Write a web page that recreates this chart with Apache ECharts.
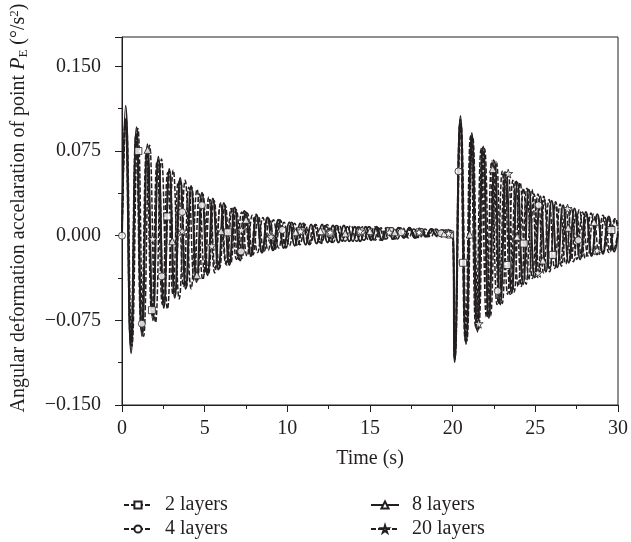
<!DOCTYPE html>
<html>
<head>
<meta charset="utf-8">
<script src="https://cdn.jsdelivr.net/npm/echarts@6/dist/echarts.min.js"></script>
<style>
  html, body { margin: 0; padding: 0; background: #fff; }
  #chart { width: 631px; height: 542px; }
</style>
</head>
<body>
<div id="chart"></div>
<script>
// * 2 / 4 / 8 / 20 layers — angular deformation acceleration, [time, value] at the turning points

const s2 = [[0,0],[0.20,0.100],[0.52,-0.094],[0.84,0.089],[1.16,-0.083],[1.48,0.076],[1.80,-0.070],[2.12,0.066],[2.44,-0.061],[2.76,0.056],[3.08,-0.052],[3.40,0.048],[3.72,-0.045],[4.04,0.043],[4.36,-0.040],[4.68,0.037],[5.00,-0.034],[5.32,0.032],[5.64,-0.029],[5.96,0.028],[6.28,-0.025],[6.60,0.024],[6.92,-0.021],[7.24,0.021],[7.56,-0.018],[7.88,0.018],[8.20,-0.015],[8.52,0.016],[8.84,-0.013],[9.16,0.014],[9.48,-0.011],[9.80,0.012],[10.12,-0.009],[10.44,0.011],[10.76,-0.008],[11.08,0.010],[11.40,-0.007],[11.72,0.010],[12.04,-0.006],[12.36,0.009],[12.68,-0.006],[13.00,0.009],[13.32,-0.005],[13.64,0.008],[13.96,-0.005],[14.28,0.008],[14.60,-0.004],[14.92,0.008],[15.24,-0.004],[15.56,0.007],[15.88,-0.003],[16.20,0.007],[16.52,-0.003],[16.84,0.007],[17.16,-0.002],[17.48,0.006],[17.80,-0.002],[18.12,0.006],[18.44,-0.001],[18.76,0.006],[19.08,-0.001],[19.40,0.005],[19.72,0.000],[20.00,0.002],
  [20.12,-0.108],[20.44,0.100],[20.76,-0.093],[21.08,0.088],[21.40,-0.082],[21.72,0.077],[22.04,-0.072],[22.36,0.066],[22.68,-0.061],[23.00,0.057],[23.32,-0.052],[23.64,0.049],[23.96,-0.045],[24.28,0.042],[24.60,-0.039],[24.92,0.037],[25.24,-0.034],[25.56,0.032],[25.88,-0.029],[26.20,0.028],[26.52,-0.025],[26.84,0.024],[27.16,-0.022],[27.48,0.021],[27.80,-0.019],[28.12,0.019],[28.44,-0.017],[28.76,0.017],[29.08,-0.015],[29.40,0.015],[29.72,-0.013],[30.00,0.004]]

const s4 = [[0,0],[0.19,0.102],[0.53,-0.097],[0.86,0.091],[1.20,-0.085],[1.53,0.078],[1.87,-0.072],[2.21,0.067],[2.54,-0.062],[2.88,0.057],[3.21,-0.053],[3.55,0.049],[3.89,-0.046],[4.22,0.043],[4.56,-0.040],[4.89,0.037],[5.23,-0.034],[5.57,0.031],[5.90,-0.029],[6.24,0.027],[6.57,-0.025],[6.91,0.023],[7.25,-0.020],[7.58,0.020],[7.92,-0.017],[8.25,0.017],[8.59,-0.014],[8.93,0.015],[9.26,-0.012],[9.60,0.013],[9.93,-0.010],[10.27,0.011],[10.61,-0.008],[10.94,0.010],[11.28,-0.007],[11.61,0.010],[11.95,-0.006],[12.29,0.009],[12.62,-0.006],[12.96,0.009],[13.29,-0.005],[13.63,0.008],[13.97,-0.005],[14.30,0.008],[14.64,-0.004],[14.97,0.008],[15.31,-0.004],[15.65,0.007],[15.98,-0.003],[16.32,0.007],[16.65,-0.003],[16.99,0.007],[17.33,-0.002],[17.66,0.006],[18.00,-0.002],[18.33,0.006],[18.67,-0.001],[19.01,0.006],[19.34,-0.001],[19.68,0.005],[20.00,0.002],
  [20.12,-0.110],[20.46,0.103],[20.79,-0.094],[21.13,0.089],[21.46,-0.083],[21.80,0.078],[22.14,-0.072],[22.47,0.067],[22.81,-0.061],[23.14,0.057],[23.48,-0.052],[23.82,0.049],[24.15,-0.045],[24.49,0.042],[24.82,-0.038],[25.16,0.037],[25.50,-0.033],[25.83,0.032],[26.17,-0.029],[26.50,0.028],[26.84,-0.025],[27.18,0.024],[27.51,-0.021],[27.85,0.021],[28.18,-0.018],[28.52,0.019],[28.86,-0.016],[29.19,0.017],[29.53,-0.014],[29.86,0.015],[30.00,0.010]]

const s8 = [[0,0],[0.22,0.115],[0.55,-0.104],[0.88,0.096],[1.21,-0.089],[1.54,0.081],[1.87,-0.075],[2.20,0.070],[2.53,-0.064],[2.86,0.059],[3.19,-0.055],[3.52,0.051],[3.85,-0.047],[4.18,0.044],[4.51,-0.041],[4.84,0.038],[5.17,-0.035],[5.50,0.033],[5.83,-0.030],[6.16,0.029],[6.49,-0.026],[6.82,0.025],[7.15,-0.022],[7.48,0.021],[7.81,-0.018],[8.14,0.018],[8.47,-0.015],[8.80,0.016],[9.13,-0.013],[9.46,0.014],[9.79,-0.011],[10.12,0.012],[10.45,-0.009],[10.78,0.011],[11.11,-0.008],[11.44,0.010],[11.77,-0.007],[12.10,0.010],[12.43,-0.006],[12.76,0.009],[13.09,-0.006],[13.42,0.009],[13.75,-0.005],[14.08,0.008],[14.41,-0.005],[14.74,0.008],[15.07,-0.004],[15.40,0.008],[15.73,-0.004],[16.06,0.007],[16.39,-0.003],[16.72,0.007],[17.05,-0.002],[17.38,0.007],[17.71,-0.002],[18.04,0.006],[18.37,-0.001],[18.70,0.006],[19.03,0.000],[19.36,0.005],[19.69,0.001],[20.00,0.003],
  [20.12,-0.112],[20.47,0.106],[20.81,-0.096],[21.16,0.091],[21.50,-0.085],[21.85,0.079],[22.19,-0.073],[22.54,0.066],[22.88,-0.061],[23.23,0.056],[23.57,-0.051],[23.92,0.047],[24.26,-0.043],[24.61,0.041],[24.95,-0.037],[25.30,0.035],[25.64,-0.032],[25.99,0.031],[26.33,-0.028],[26.68,0.027],[27.02,-0.024],[27.37,0.024],[27.71,-0.021],[28.06,0.021],[28.40,-0.018],[28.75,0.019],[29.09,-0.016],[29.44,0.017],[29.78,-0.014],[30.00,0.002]]

const s20 = [[0,0],[0.24,0.104],[0.60,-0.098],[0.96,0.095],[1.31,-0.089],[1.67,0.080],[2.03,-0.077],[2.39,0.068],[2.75,-0.065],[3.10,0.058],[3.46,-0.056],[3.82,0.049],[4.18,-0.047],[4.54,0.041],[4.89,-0.039],[5.25,0.034],[5.61,-0.033],[5.97,0.029],[6.33,-0.026],[6.68,0.025],[7.04,-0.021],[7.40,0.022],[7.76,-0.018],[8.12,0.019],[8.47,-0.015],[8.83,0.016],[9.19,-0.013],[9.55,0.014],[9.91,-0.011],[10.26,0.012],[10.62,-0.009],[10.98,0.011],[11.34,-0.008],[11.70,0.010],[12.05,-0.007],[12.41,0.010],[12.77,-0.006],[13.13,0.009],[13.49,-0.005],[13.84,0.009],[14.20,-0.005],[14.56,0.008],[14.92,-0.004],[15.28,0.008],[15.63,-0.004],[15.99,0.007],[16.35,-0.003],[16.71,0.007],[17.07,-0.002],[17.42,0.007],[17.78,-0.002],[18.14,0.006],[18.50,-0.001],[18.86,0.006],[19.21,0.000],[19.57,0.005],[20.00,0.002],
  [20.14,-0.109],[20.50,0.100],[20.86,-0.093],[21.21,0.088],[21.57,-0.083],[21.93,0.077],[22.29,-0.071],[22.65,0.065],[23.00,-0.060],[23.36,0.056],[23.72,-0.050],[24.08,0.047],[24.44,-0.043],[24.79,0.041],[25.15,-0.037],[25.51,0.035],[25.87,-0.032],[26.23,0.030],[26.58,-0.027],[26.94,0.026],[27.30,-0.023],[27.66,0.023],[28.02,-0.020],[28.37,0.020],[28.73,-0.017],[29.09,0.018],[29.45,-0.015],[29.81,0.015],[30.00,0.006]]

// ? marker positions
const mk2 = [[0.99,0.075],[1.81,-0.066],[2.74,0.017],[6.4,0.003],[10.8,0.004],[12.6,0.002],[14.4,0.003],[16.2,0.004],[18.0,0.003],[19.85,0.001],[20.63,-0.024],[23.3,-0.026],[24.3,-0.007],[26.05,-0.017],[29.6,0.005]]
const mk4 = [[0,0],[1.2,-0.078],[2.4,-0.036],[3.64,0.021],[4.83,0.027],[7.2,-0.014],[9.7,0.005],[12.1,0.003],[14.5,0.004],[16.9,0.003],[19.3,0.002],[20.35,0.057],[22.72,-0.049],[25.2,0.027],[27.6,-0.004]]
const mk8 = [[1.55,0.076],[3.04,-0.005],[4.53,-0.035],[6.0,0.004],[7.5,0.014],[9.0,0.002],[10.5,0.003],[12.0,0.004],[13.5,0.002],[15.0,0.004],[16.5,0.003],[18.0,0.004],[19.5,0.002],[21.03,0.001],[22.42,0.059],[23.9,-0.001],[25.46,-0.022],[26.99,0.007],[28.55,0.012]]
const mk20 = [[1.85,-0.003],[3.64,0.004],[5.43,-0.009],[7.22,0.005],[9.01,-0.001],[10.8,0.004],[12.59,0.003],[14.38,0.004],[16.17,0.003],[17.96,0.003],[19.75,0.002],[21.57,-0.078],[23.36,0.055],[25.16,-0.033],[26.95,0.024],[28.74,-0.013]]

const ink = '#231f20'
const font = 'Liberation Serif'
const star = 'path://M50,0 L61,35 L98,35 L68,57 L79,91 L50,70 L21,91 L32,57 L2,35 L39,35 Z'

const chart = echarts.init(document.getElementById('chart'))

function lineSeries(name, data, symbol, dashed) {
  return {
    name: name,
    type: 'line',
    data: data,
    smooth: 0.5,
    showSymbol: false,
    symbol: symbol,
    itemStyle: { color: '#fff', borderColor: ink, borderWidth: 1 },
    lineStyle: { color: ink, width: dashed ? 1.5 : 2, type: dashed ? [5, 2] : 'solid' },
    z: dashed ? 2 : 3
  }
}

function markerSeries(name, data, symbol) {
  return {
    name: name + ' mk',
    type: 'scatter',
    data: data,
    symbol: symbol,
    symbolSize: symbol === star ? 9 : 7,
    itemStyle: { color: '#fff', borderColor: ink, borderWidth: 1 },
    z: 5
  }
}

// one legend per entry, so each sits where the reference puts it
function legendAt(name, left, top) {
  return {
    show: true,
    data: [name],
    left: left,
    top: top,
    orient: 'horizontal',
    itemWidth: 28,
    itemHeight: 9,
    textStyle: { fontFamily: font, fontSize: 20, color: ink, padding: [0, 0, 0, 8] }
  }
}

const option = {
  animation: false,
  backgroundColor: '#fff',
  grid: { left: 120, right: 10, top: 37, bottom: 137, show: true, borderColor: ink, borderWidth: 1 },
  legend: [
    legendAt('2 layers', 118, 490),
    legendAt('4 layers', 118, 514),
    legendAt('8 layers', 365, 490),
    legendAt('20 layers', 365, 514)
  ],
  xAxis: {
    type: 'value',
    min: 0,
    max: 30,
    interval: 5,
    name: 'Time (s)',
    nameLocation: 'middle',
    nameGap: 44,
    nameTextStyle: { fontFamily: font, fontSize: 20, color: ink },
    axisLine: { onZero: false, lineStyle: { color: ink, width: 1 } },
    axisTick: { length: 7, lineStyle: { color: ink } },
    minorTick: { show: true, splitNumber: 2, length: 4, lineStyle: { color: ink } },
    splitLine: { show: false },
    axisLabel: { margin: 14, fontFamily: font, fontSize: 20, color: ink }
  },
  yAxis: {
    type: 'value',
    min: -0.15,
    max: 0.176,
    interval: 0.075,
    name: '{t|Angular deformation accelaration of point }{i|P}{sub|E}{t| (°/s}{sup|2}{t|)}',
    nameLocation: 'middle',
    nameGap: 92,
    nameTextStyle: {
      fontFamily: font,
      fontSize: 20,
      color: ink,
      padding: [0, 0, 0, 26],
      rich: {
        t: { fontFamily: font, fontSize: 20, color: ink, lineHeight: 22 },
        i: { fontFamily: font, fontSize: 20, fontStyle: 'italic', color: ink, lineHeight: 22 },
        sub: { fontFamily: font, fontSize: 13, color: ink, verticalAlign: 'bottom', lineHeight: 22 },
        sup: { fontFamily: font, fontSize: 13, color: ink, verticalAlign: 'top', lineHeight: 22 }
      }
    },
    axisLine: { show: true, onZero: false, lineStyle: { color: ink, width: 1 } },
    axisTick: { show: true, length: 7, lineStyle: { color: ink } },
    minorTick: { show: true, splitNumber: 2, length: 4, lineStyle: { color: ink } },
    splitLine: { show: false },
    axisLabel: {
      showMaxLabel: false,
      margin: 21,
      fontFamily: font,
      fontSize: 20,
      color: ink,
      formatter: v => (v < -1e-9 ? '\u2212' : '') + Math.abs(v).toFixed(3)
    }
  },
  series: [
    lineSeries('2 layers', s2, 'rect', true),
    lineSeries('4 layers', s4, 'circle', true),
    lineSeries('20 layers', s20, star, true),
    lineSeries('8 layers', s8, 'triangle', false),
    markerSeries('2 layers', mk2, 'rect'),
    markerSeries('4 layers', mk4, 'circle'),
    markerSeries('8 layers', mk8, 'triangle'),
    markerSeries('20 layers', mk20, star)
  ]
}

chart.setOption(option)
</script>
</body>
</html>
